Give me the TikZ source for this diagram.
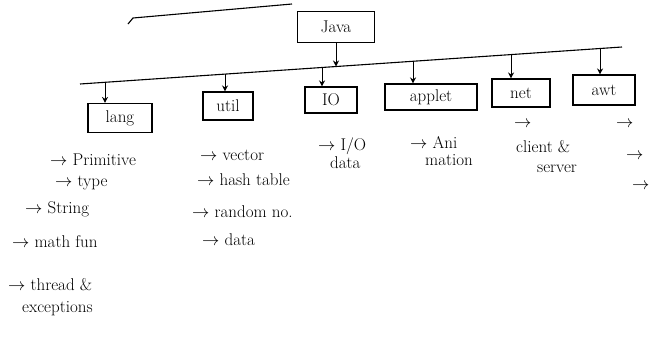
\documentclass[tikz,border=0pt]{standalone}
\usetikzlibrary{arrows.meta,calc}
\begin{document}
\begin{tikzpicture}[x=1pt,y=-1pt,
  pkg/.style={draw,line width=1.1pt,rectangle,inner sep=0pt,font=\fontsize{17}{19}\selectfont},
  item/.style={anchor=west,inner sep=0pt,align=left,font=\fontsize{17}{19}\selectfont},
  link/.style={line width=1.1pt},
  down/.style={line width=1pt,-{Stealth[length=6pt,width=6pt]}}]
\useasboundingbox (0,0) rectangle (664,354);
% top underline of a previous heading
\draw[link] (128,24) -- (133,18) -- (292,4);
% root
\node[pkg,minimum width=77pt,minimum height=31pt] (java) at (336,27) {Java};
% bus line
\coordinate (L) at (80,84);
\coordinate (R) at (622,47);
\draw[link] (L) -- (R);
\coordinate (jb) at (336,66.5);
\draw[down] (java.south) -- (jb);
% packages
\node[pkg,minimum width=64pt,minimum height=29pt] (lang) at (120,118) {lang};
\node[pkg,minimum width=50pt,minimum height=28pt] (util) at (228,106) {util};
\node[pkg,minimum width=52pt,minimum height=26pt] (io) at (331,100) {IO};
\node[pkg,minimum width=92pt,minimum height=26pt] (applet) at (431,97) {applet};
\node[pkg,minimum width=58pt,minimum height=28pt] (net) at (521,93) {net};
\node[pkg,minimum width=62pt,minimum height=30pt] (awt) at (604,90) {awt};
% drops
\coordinate (d1) at (105,82.3);
\coordinate (d2) at (225,74.1);
\coordinate (d3) at (322,67.5);
\coordinate (d4) at (413,61.3);
\coordinate (d5) at (511,54.6);
\coordinate (d6) at (600,48.5);
\draw[down] (d1) -- (lang.north -| d1);
\draw[down] (d2) -- (util.north -| d2);
\draw[down] (d3) -- (io.north -| d3);
\draw[down] (d4) -- (applet.north -| d4);
\draw[down] (d5) -- (net.north -| d5);
\draw[down] (d6) -- (awt.north -| d6);
% lang items
\node[item] (l1) at (50,160) {$\rightarrow$ Primitive};
\node[item] (l2) at (55,183) {$\rightarrow$ type};
\node[item] (l3) at (25,209) {$\rightarrow$ String};
\node[item] (l4) at (12,242) {$\rightarrow$ math fun};
\node[item] (l5) at (8,285) {$\rightarrow$ thread \&};
\node[item] (l6) at (22,309) {exceptions};
% util items
\node[item] (u1) at (200,155) {$\rightarrow$ vector};
\node[item] (u2) at (197,180) {$\rightarrow$ hash table};
\node[item] (u3) at (192,212) {$\rightarrow$ random no.};
\node[item] (u4) at (202,240) {$\rightarrow$ data};
% io items
\node[item] (i1) at (318,146) {$\rightarrow$ I/O};
\node[item] (i2) at (330,163) {data};
% applet items
\node[item] (a1) at (410,142) {$\rightarrow$ Ani};
\node[item] (a2) at (425,160) {mation};
% net items
\node[item] (n0) at (514,124) {$\rightarrow$};
\node[item] (n1) at (516,147) {client \&};
\node[item] (n2) at (537,169) {server};
% awt items (cut off at the right edge)
\node[item] (w1) at (616,124) {$\rightarrow$};
\node[item] (w2) at (626,156) {$\rightarrow$};
\node[item] (w3) at (632,186) {$\rightarrow$};
\end{tikzpicture}
\end{document}
